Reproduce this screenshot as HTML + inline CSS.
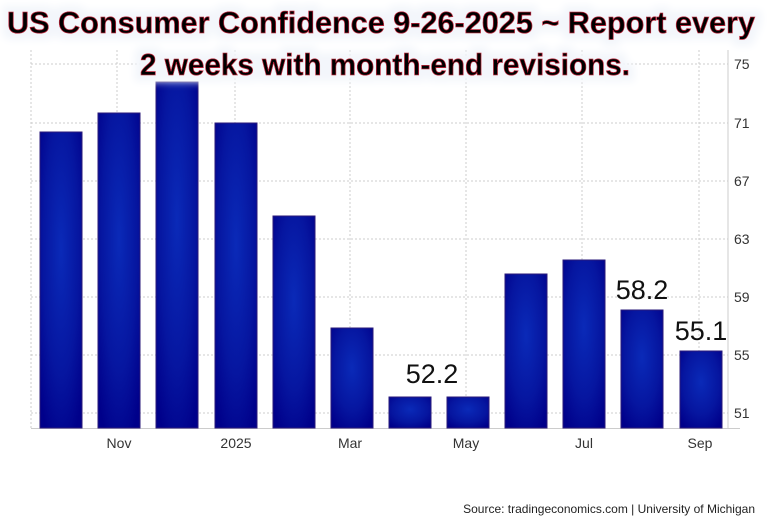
<!DOCTYPE html>
<html><head><meta charset="utf-8"><style>
body{margin:0;background:#fff;}
svg{display:block;font-family:"Liberation Sans",sans-serif;}
</style></head><body>
<svg width="768" height="524" viewBox="0 0 768 524" xmlns="http://www.w3.org/2000/svg">
<defs>
<radialGradient id="g" cx="50%" cy="40%" r="70%">
<stop offset="0" stop-color="#0a2ab8"/>
<stop offset="0.6" stop-color="#0616a0"/>
<stop offset="1" stop-color="#00008a"/>
</radialGradient>
<filter id="glow" filterUnits="userSpaceOnUse" x="0" y="0" width="768" height="100">
<feMorphology in="SourceAlpha" operator="dilate" radius="6" result="d"/>
<feGaussianBlur in="d" stdDeviation="4" result="b"/>
<feFlood flood-color="#f3f6fb"/>
<feComposite in2="b" operator="in" result="w"/>
<feMerge><feMergeNode in="w"/><feMergeNode in="SourceGraphic"/></feMerge>
</filter>
</defs>
<g stroke="#ccc" stroke-dasharray="2,2" stroke-width="1">
<line x1="31" y1="64" x2="728" y2="64"/>
<line x1="31" y1="123" x2="728" y2="123"/>
<line x1="31" y1="181" x2="728" y2="181"/>
<line x1="31" y1="239" x2="728" y2="239"/>
<line x1="31" y1="297" x2="728" y2="297"/>
<line x1="31" y1="355" x2="728" y2="355"/>
<line x1="31" y1="413" x2="728" y2="413"/>
<line x1="117" y1="50" x2="117" y2="428"/>
<line x1="235" y1="50" x2="235" y2="428"/>
<line x1="350" y1="50" x2="350" y2="428"/>
<line x1="466" y1="50" x2="466" y2="428"/>
<line x1="582" y1="50" x2="582" y2="428"/>
<line x1="699" y1="50" x2="699" y2="428"/>
<line x1="31" y1="50" x2="31" y2="428"/>
</g>
<line x1="728" y1="50" x2="728" y2="428" stroke="#ccc"/>
<line x1="31" y1="428.5" x2="740" y2="428.5" stroke="#ccc"/>
<g fill="url(#g)" stroke="#2a1a7a" stroke-width="1">
<rect x="40" y="132" width="42" height="296"/>
<rect x="98" y="113" width="42" height="315"/>
<rect x="156" y="82" width="42" height="346"/>
<rect x="215" y="123" width="42" height="305"/>
<rect x="273" y="216" width="42" height="212"/>
<rect x="331" y="328" width="42" height="100"/>
<rect x="389" y="397" width="42" height="31"/>
<rect x="447" y="397" width="42" height="31"/>
<rect x="505" y="274" width="42" height="154"/>
<rect x="563" y="260" width="42" height="168"/>
<rect x="621" y="310" width="42" height="118"/>
<rect x="680" y="351" width="42" height="77"/>
</g>
<g font-size="14" fill="#333">
<text x="734" y="69">75</text><text x="734" y="128">71</text><text x="734" y="186">67</text>
<text x="734" y="244">63</text><text x="734" y="302">59</text><text x="734" y="360">55</text><text x="734" y="418">51</text>
</g>
<g font-size="14" fill="#333" text-anchor="middle">
<text x="119" y="448">Nov</text><text x="236" y="448">2025</text><text x="350" y="448">Mar</text>
<text x="466" y="448">May</text><text x="584" y="448">Jul</text><text x="700" y="448">Sep</text>
</g>
<g font-size="27" fill="#111" text-anchor="middle">
<text x="432" y="383">52.2</text><text x="642" y="299">58.2</text><text x="701" y="340">55.1</text>
</g>
<text x="755" y="513" font-size="12" fill="#222" text-anchor="end">Source: tradingeconomics.com | University of Michigan</text>
<g filter="url(#glow)" font-weight="bold" font-size="31" fill="#000" stroke="#c0243a" stroke-width="0.8" text-anchor="middle">
<text x="381" y="33" textLength="748" lengthAdjust="spacingAndGlyphs">US Consumer Confidence 9-26-2025  ~ Report every</text>
<text x="385" y="75" textLength="490" lengthAdjust="spacingAndGlyphs">2 weeks with month-end revisions.</text>
</g>
</svg>
</body></html>
